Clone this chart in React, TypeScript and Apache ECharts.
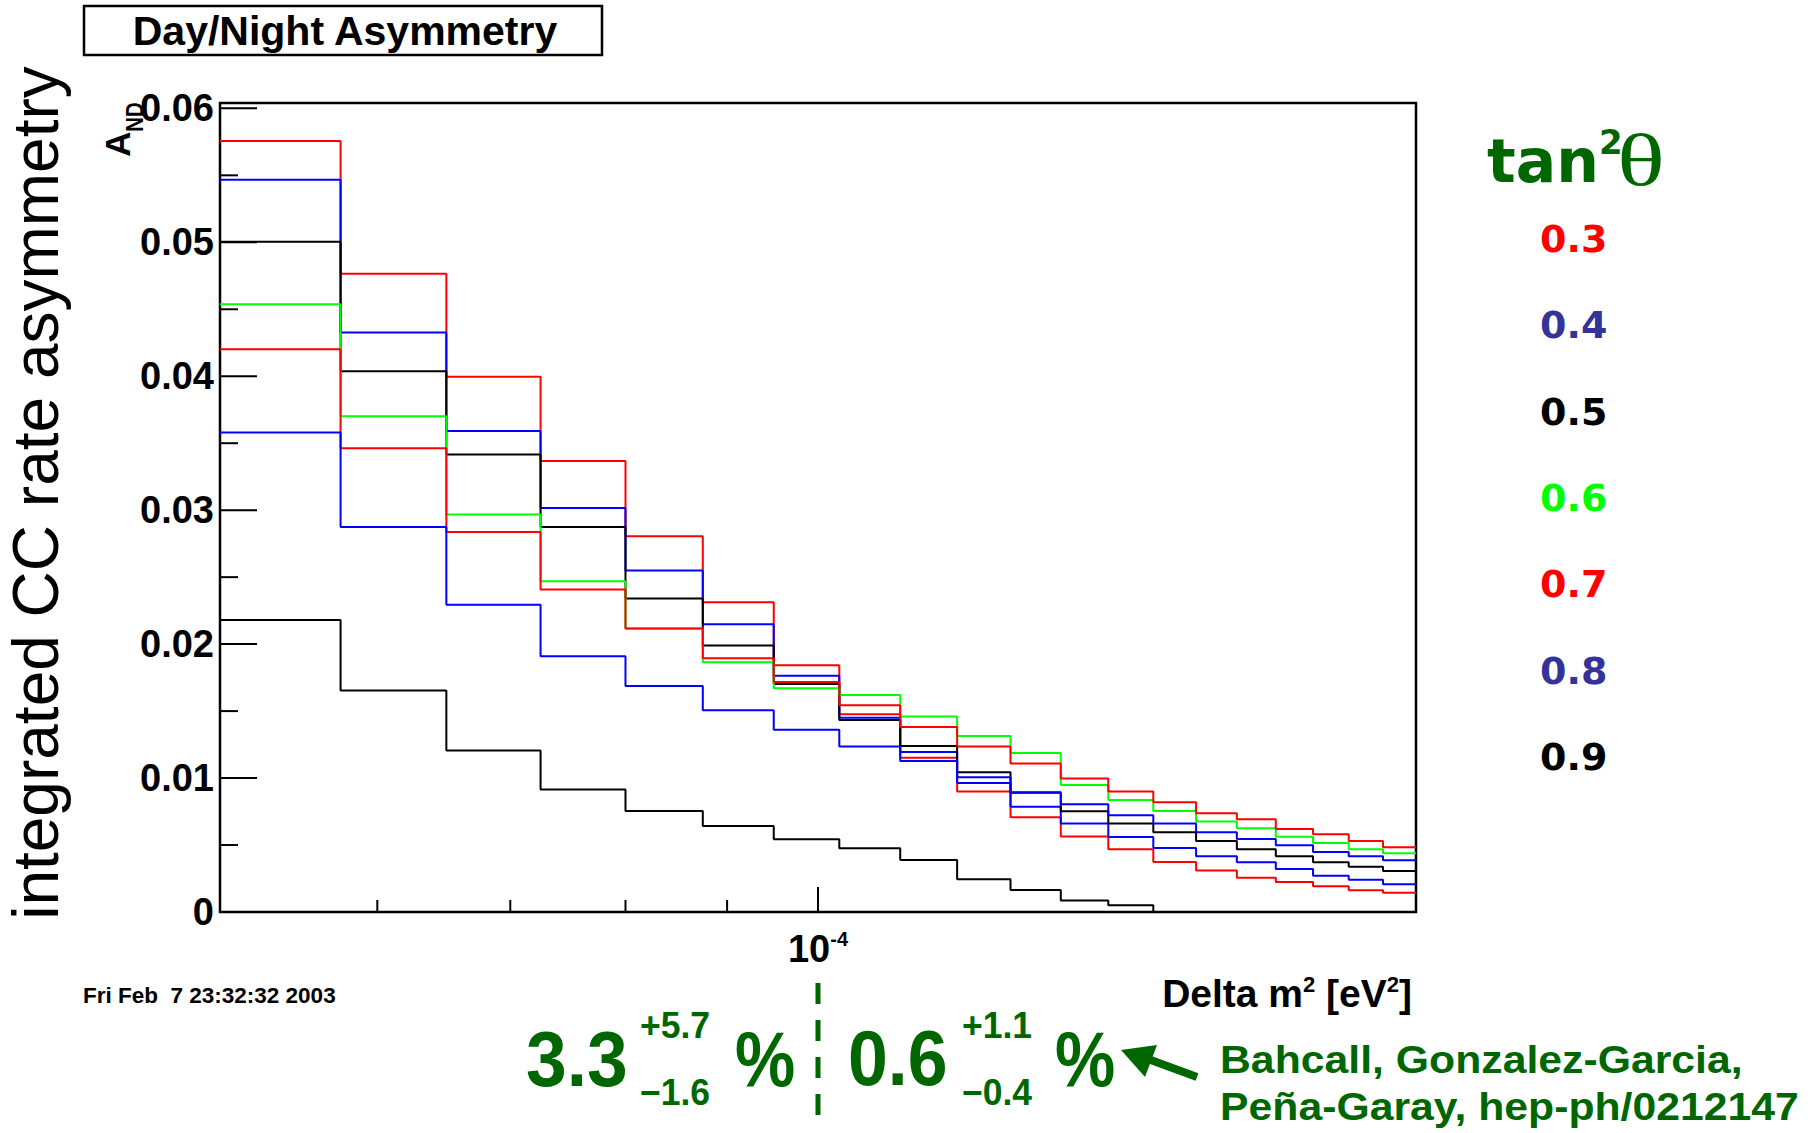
import React, { useEffect, useRef } from 'react';
import * as echarts from 'echarts';

// ---- data ----
const binEdges = [
  5.0e-5, 5.75e-5, 6.5e-5, 7.25e-5, 8.0e-5, 8.75e-5, 9.5e-5, 1.025e-4, 1.1e-4, 1.175e-4,
  1.25e-4, 1.325e-4, 1.4e-4, 1.475e-4, 1.55e-4, 1.625e-4, 1.7e-4, 1.775e-4, 1.85e-4, 1.925e-4, 2.0e-4,
];

const tan03 = [0.05756, 0.04765, 0.03996, 0.03368, 0.02806, 0.02313, 0.01842, 0.01476, 0.01152, 0.00899,
  0.00707, 0.00563, 0.00468, 0.00373, 0.00309, 0.00256, 0.00224, 0.00192, 0.00162, 0.00144];
const tan04 = [0.05467, 0.04327, 0.03592, 0.03017, 0.02549, 0.02149, 0.01763, 0.01451, 0.01195, 0.00963,
  0.00786, 0.0066, 0.0056, 0.00478, 0.00416, 0.00371, 0.00321, 0.00271, 0.00241, 0.00207];
const tan05 = [0.05004, 0.04038, 0.03415, 0.02875, 0.0234, 0.01989, 0.01703, 0.01434, 0.0124, 0.01043,
  0.0089, 0.00752, 0.0066, 0.00595, 0.0053, 0.00468, 0.00416, 0.00371, 0.00338, 0.00306];
const tan06 = [0.04538, 0.03702, 0.02967, 0.0247, 0.02116, 0.01865, 0.0167, 0.01621, 0.01459, 0.01314,
  0.01187, 0.00948, 0.00836, 0.00754, 0.00675, 0.00625, 0.00562, 0.00515, 0.00468, 0.00438];
const tan07 = [0.04202, 0.03463, 0.02838, 0.02407, 0.02116, 0.01894, 0.01717, 0.01544, 0.01382, 0.01235,
  0.01108, 0.00996, 0.00899, 0.00819, 0.00737, 0.00692, 0.0062, 0.0058, 0.0053, 0.00483];
const tan08 = [0.0358, 0.02875, 0.02293, 0.01909, 0.01688, 0.01506, 0.01361, 0.01235, 0.01128, 0.01006,
  0.00894, 0.00804, 0.00722, 0.0066, 0.00595, 0.00545, 0.00498, 0.00448, 0.00416, 0.00386];
const tan09 = [0.02181, 0.01653, 0.01205, 0.00914, 0.00754, 0.00642, 0.00543, 0.00476, 0.00388, 0.00244,
  0.00164, 0.00085, 0.0005, 0, 0, 0, 0, 0, 0, 0];

const seriesNames = ['0.3', '0.4', '0.5', '0.6', '0.7', '0.8', '0.9'];
const seriesValues = [tan03, tan04, tan05, tan06, tan07, tan08, tan09];
const lineColors = ['#ff0000', '#0000ff', '#000000', '#00ff00', '#ff0000', '#0000ff', '#000000'];
const legendColors = ['#ff0000', '#333399', '#000000', '#00ff00', '#ff0000', '#333399', '#000000'];

const yMajorTicks = [0, 0.01, 0.02, 0.03, 0.04, 0.05, 0.06];
const yMinorTicks = [0.005, 0.015, 0.025, 0.035, 0.045, 0.055];
const xMajorTicks = [1e-4];
const xMinorTicks = [6e-5, 7e-5, 8e-5, 9e-5];

const xMin = 5e-5;
const xMax = 2e-4;
const yMax = 0.0604;

const SANS = '"Liberation Sans", Arial, Helvetica, sans-serif';
const DEJAVU = '"DejaVu Sans", Verdana, sans-serif';
const SERIF = '"Liberation Serif", "Times New Roman", serif';
const GREEN = '#006600';

function toSteps(vals: number[]) {
  const pts: number[][] = vals.map((v, i) => [binEdges[i], v]);
  pts.push([binEdges[binEdges.length - 1], vals[vals.length - 1]]);
  return pts;
}

function tickSeries(data: number[][], horizontal: boolean, len: number) {
  return {
    type: 'custom',
    silent: true,
    z: 5,
    data,
    renderItem: (_params: any, api: any) => {
      const p = api.coord([api.value(0), api.value(1)]);
      const shape = horizontal
        ? { x1: p[0], y1: p[1], x2: p[0] + len, y2: p[1] }
        : { x1: p[0], y1: p[1], x2: p[0], y2: p[1] - len };
      return { type: 'line', shape, style: { stroke: '#000', lineWidth: 2 } };
    },
  };
}

function txt(text: string, x: number, y: number, o: any = {}) {
  const { align = 'left', fontSize = 20, fontWeight = 'bold', fontFamily = SANS, fill = '#000', rotation, scaleX, rich } = o;
  const el: any = {
    type: 'text',
    x,
    y,
    z: 10,
    style: {
      text,
      fill,
      fontSize,
      fontWeight,
      fontFamily,
      align,
      verticalAlign: 'middle',
      textAlign: align,
      textVerticalAlign: 'middle',
    },
  };
  if (rich) el.style.rich = rich;
  if (rotation !== undefined) el.rotation = rotation;
  if (scaleX !== undefined) el.scaleX = scaleX;
  return el;
}

export default function App() {
  const ref = useRef<HTMLDivElement>(null);

  useEffect(() => {
    document.body.style.margin = '0';
    if (!ref.current) return;
    const chart = echarts.init(ref.current, null, { renderer: 'svg' });

    const lineSeries = seriesValues.map((vals, i) => ({
      name: seriesNames[i],
      type: 'line',
      step: 'end',
      data: toSteps(vals),
      showSymbol: false,
      symbol: 'none',
      lineStyle: { color: lineColors[i], width: 2 },
      itemStyle: { color: lineColors[i] },
      z: 3,
    }));

    const legendEls = seriesNames.map((n, i) =>
      txt(n, 1540, 239 + 86.3 * i, { fontSize: 38, fontFamily: DEJAVU, fill: legendColors[i] })
    );

    const graphic: any[] = [
      // title box
      { type: 'rect', shape: { x: 84, y: 6, width: 518, height: 49 }, style: { fill: '#fff', stroke: '#000', lineWidth: 2.5 }, z: 9 },
      txt('Day/Night Asymmetry', 345, 31, { align: 'center', fontSize: 41 }),
      // big left title
      txt('integrated CC rate asymmetry', 36, 493, { align: 'center', fontSize: 64, fontWeight: 'normal', rotation: Math.PI / 2 }),
      // A_ND
      txt('A', 117, 144, { align: 'center', fontSize: 35, rotation: Math.PI / 2 }),
      txt('ND', 135, 117, { align: 'center', fontSize: 24, rotation: Math.PI / 2, scaleX: 0.85 }),
      // date
      txt('Fri Feb  7 23:32:32 2003', 83, 995, { fontSize: 22.5 }),
      // x axis title
      txt('Delta m{s|2} [eV{s|2}]', 1412, 993, {
        align: 'right', fontSize: 39,
        rich: {
          s: { fontSize: 22, fontWeight: 'bold', fontFamily: SANS, fill: '#000', verticalAlign: 'top', lineHeight: 22 },
        },
      }),
      // tan^2 theta
      txt('tan', 1487, 161, { fontSize: 60, fontFamily: DEJAVU, fill: GREEN }),
      txt('2', 1599, 142, { fontSize: 34, fontFamily: DEJAVU, fill: GREEN }),
      txt('θ', 1617, 160, { fontSize: 74, fontWeight: 'normal', fontFamily: SERIF, fill: GREEN, scaleX: 1.35 }),
      ...legendEls,
      // green results
      txt('3.3', 526, 1059, { fontSize: 77, fill: GREEN, scaleX: 0.95 }),
      txt('+5.7', 640, 1025, { fontSize: 37, fill: GREEN, scaleX: 0.96 }),
      txt('\u22121.6', 640, 1092, { fontSize: 37, fill: GREEN, scaleX: 0.96 }),
      txt('%', 735, 1059, { fontSize: 77, fill: GREEN, scaleX: 0.88 }),
      { type: 'line', shape: { x1: 818, y1: 983, x2: 818, y2: 1117 }, style: { stroke: GREEN, lineWidth: 5, lineDash: [21, 16] }, z: 10 },
      txt('0.6', 848, 1059, { fontSize: 77, fill: GREEN, scaleX: 0.93 }),
      txt('+1.1', 962, 1025, { fontSize: 37, fill: GREEN, scaleX: 0.96 }),
      txt('\u22120.4', 962, 1092, { fontSize: 37, fill: GREEN, scaleX: 0.96 }),
      txt('%', 1055, 1059, { fontSize: 77, fill: GREEN, scaleX: 0.88 }),
      { type: 'line', shape: { x1: 1197, y1: 1077, x2: 1148, y2: 1059 }, style: { stroke: GREEN, lineWidth: 8 }, z: 10 },
      { type: 'polygon', shape: { points: [[1121, 1050], [1157, 1045], [1145, 1077]] }, style: { fill: GREEN }, z: 10 },
      txt('Bahcall, Gonzalez-Garcia,', 1220, 1060, { fontSize: 38, fill: GREEN, scaleX: 1.125 }),
      txt('Peña-Garay, hep-ph/0212147', 1220, 1107, { fontSize: 38, fill: GREEN, scaleX: 1.125 }),
    ];

    const option: any = {
      animation: false,
      backgroundColor: '#ffffff',
      grid: {
        left: 220, top: 103, width: 1196, height: 809,
        show: true, borderColor: '#000', borderWidth: 2.5, backgroundColor: 'transparent',
      },
      xAxis: {
        type: 'log',
        logBase: 10,
        min: xMin,
        max: xMax,
        axisLine: { show: false },
        axisTick: { show: false },
        splitLine: { show: false },
        minorTick: { show: false },
        axisLabel: {
          show: true,
          margin: 17,
          formatter: (v: number) => (Math.abs(v - 1e-4) < 1e-10 ? '{b|10}{s|-4}' : ''),
          rich: {
            b: { fontSize: 38, fontWeight: 'bold', fontFamily: SANS, color: '#000', lineHeight: 40 },
            s: { fontSize: 20, fontWeight: 'bold', fontFamily: SANS, color: '#000', verticalAlign: 'top', lineHeight: 16 },
          },
        },
      },
      yAxis: {
        type: 'value',
        min: 0,
        max: yMax,
        interval: 0.01,
        axisLine: { show: false },
        axisTick: { show: false },
        splitLine: { show: false },
        axisLabel: {
          margin: 6,
          fontSize: 38,
          fontWeight: 'bold',
          fontFamily: SANS,
          color: '#000',
          formatter: (v: number) => {
            if (v === 0) return '0';
            const r = Math.round(v * 100) / 100;
            return Math.abs(v - r) < 1e-9 ? r.toFixed(2) : '';
          },
        },
      },
      series: [
        ...lineSeries,
        tickSeries(yMajorTicks.map((v) => [xMin, v]), true, 37),
        tickSeries(yMinorTicks.map((v) => [xMin, v]), true, 18),
        tickSeries(xMajorTicks.map((v) => [v, 0]), false, 25),
        tickSeries(xMinorTicks.map((v) => [v, 0]), false, 12),
      ],
      graphic,
    };

    chart.setOption(option);
    return () => chart.dispose();
  }, []);

  return <div ref={ref} style={{ width: 1812, height: 1133, background: '#fff' }} />;
}
